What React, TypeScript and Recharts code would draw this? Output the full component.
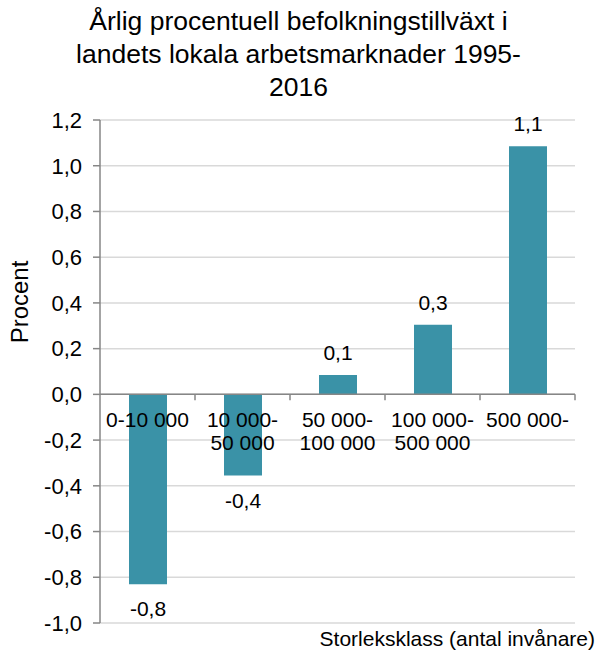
import React from "react";
import { BarChart, Bar, XAxis, YAxis, CartesianGrid, ReferenceLine, LabelList } from "recharts";

const categories = ["0-10 000", "10 000-\n50 000", "50 000-\n100 000", "100 000-\n500 000", "500 000-"];
const growth = [-0.83, -0.355, 0.085, 0.305, 1.085];
const yTicks = [-1.0, -0.8, -0.6, -0.4, -0.2, 0.0, 0.2, 0.4, 0.6, 0.8, 1.0, 1.2];

const data = categories.map((cat, i) => ({ cat, value: growth[i] }));

const W = 597;
const H = 652;
const X_AXIS_H = 29;
const MARGIN = { top: 120, right: 22, bottom: 0, left: 10 };
const Y_AXIS_W = 90;
const PLOT_H = H - MARGIN.top - MARGIN.bottom - X_AXIS_H;
const PLOT_W = W - MARGIN.left - MARGIN.right - Y_AXIS_W;
const Y_MIN = -1;
const Y_MAX = 1.2;
const ZERO_Y = MARGIN.top + (PLOT_H * Y_MAX) / (Y_MAX - Y_MIN);
const BAND = PLOT_W / categories.length;

const FONT = "'Liberation Sans', Arial, sans-serif";
const AXIS_GREY = "#868686";

const fmt = (v: number) => v.toFixed(1).replace(".", ",");

function CatTick(props: any) {
  const { x, payload } = props;
  const lines = String(payload.value).split("\n");
  return (
    <g>
      <line x1={x + BAND / 2} x2={x + BAND / 2} y1={ZERO_Y} y2={ZERO_Y + 6} stroke={AXIS_GREY} strokeWidth={1.5} />
      {lines.map((l, i) => (
        <text key={i} x={x} y={ZERO_Y + 33 + i * 23} textAnchor="middle" fontSize={21} fill="#000" fontFamily={FONT}>
          {l}
        </text>
      ))}
    </g>
  );
}

function ValueLabel(props: any) {
  const { x, y, width, height, value } = props;
  const top = Math.min(y, y + height);
  const bottom = Math.max(y, y + height);
  const ty = value >= 0 ? top - 15 : bottom + 32;
  return (
    <text x={x + width / 2} y={ty} textAnchor="middle" fontSize={21} fill="#000" fontFamily={FONT}>
      {fmt(Number(value))}
    </text>
  );
}

export default function App() {
  return (
    <div style={{ position: "absolute", left: 0, top: 0, width: W, height: H, background: "#fff", fontFamily: FONT }}>
      <div style={{ position: "absolute", left: 0, top: 5, width: W, textAlign: "center", fontSize: 26.5, lineHeight: "33px", color: "#000" }}>
        Årlig procentuell befolkningstillväxt i<br />
        landets lokala arbetsmarknader 1995-<br />
        2016
      </div>
      <div
        style={{
          position: "absolute", left: 20, top: 302, fontSize: 24, color: "#000",
          transform: "translate(-50%, -50%) rotate(-90deg)", whiteSpace: "nowrap",
        }}
      >
        Procent
      </div>
      <div style={{ position: "absolute", right: 2, top: 627, fontSize: 21, color: "#000", whiteSpace: "nowrap" }}>
        Storleksklass (antal invånare)
      </div>
      <BarChart width={W} height={H} data={data} margin={MARGIN}>
        <CartesianGrid vertical={false} stroke="#d9d9d9" strokeWidth={1.5} />
        <XAxis
          dataKey="cat"
          height={X_AXIS_H}
          axisLine={false}
          tickLine={false}
          interval={0}
          tick={(p: any) => <CatTick {...p} />}
        />
        <YAxis
          domain={[Y_MIN, Y_MAX]}
          ticks={yTicks}
          tickFormatter={fmt}
          width={Y_AXIS_W}
          axisLine={{ stroke: AXIS_GREY, strokeWidth: 1.5 }}
          tickLine={{ stroke: AXIS_GREY, strokeWidth: 1.5 }}
          tickSize={7}
          tickMargin={11}
          tick={{ fill: "#000", fontSize: 22, fontFamily: FONT }}
        />
        <ReferenceLine y={0} stroke={AXIS_GREY} strokeWidth={1.5} />
        <Bar dataKey="value" fill="#3a92a7" barSize={38} isAnimationActive={false}>
          <LabelList dataKey="value" content={<ValueLabel />} />
        </Bar>
      </BarChart>
    </div>
  );
}
